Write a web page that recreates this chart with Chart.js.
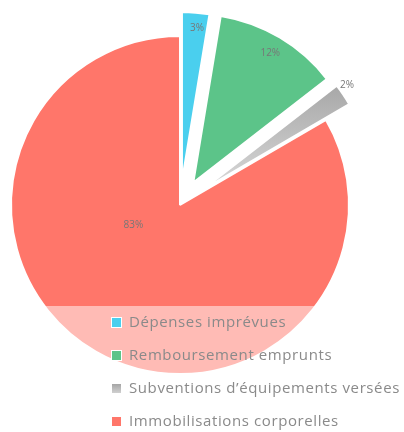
<!DOCTYPE html>
<html lang="fr">

<head>
    <meta charset="UTF-8">
    <title>Dépenses d'investissement</title>
    <script src="https://cdn.jsdelivr.net/npm/chart.js"></script>
    <style>
        body { margin: 0; background: #fff; }
        .wrap { position: relative; width: 404px; height: 432px; }
        .bande {
            position: absolute; left: 0; top: 306px; width: 404px; height: 126px;
            background: rgba(255, 255, 255, 0.5);
        }
        .legende { position: absolute; left: 111px; top: 304px; font-family: "Open Sans", sans-serif; font-size: 15px; letter-spacing: 0.6px; color: #8a8a8a; }
        .legende div { height: 33px; display: flex; align-items: center; white-space: nowrap; }
        .legende span.carre { width: 9px; height: 9px; margin-right: 7px; margin-top: 4px; border: 1px solid #fff; }
    </style>
</head>

<body>
    <div class="wrap">
        <canvas id="depensesChart"></canvas>
        <div class="bande"></div>
        <div class="legende" id="legende"></div>
    </div>

    <script>
        // données (estimées sur l'image, étiquettes arrondies)
        const categories = ["Dépenses imprévues", "Remboursement emprunts", "Subventions d’équipements versées", "Immobilisations corporelles"];
        const pourcentages = [2.6, 11.9, 2.1, 83.4];
        const couleurs = ['#4acfee', '#5cc489', '#ababab', '#ff766a'];
        const ecarts = [24, 26, 28, 0]; // parts détachées (px)
        // position des étiquettes (fraction du rayon, fraction de l'angle)
        const etiqRayon = [0.91, 0.89, 1.05, 0.30];
        const etiqAngle = [0.6, 0.50, 0.26, 0.623];

        // légende html par-dessus le graphique
        const legende = document.getElementById('legende');
        categories.forEach((cat, i) => {
            const ligne = document.createElement('div');
            const carre = document.createElement('span');
            carre.className = 'carre';
            carre.style.background = i === 2 ? 'linear-gradient(#a5a5a5, #d0d0d0)' : couleurs[i];
            ligne.appendChild(carre);
            ligne.appendChild(document.createTextNode(cat));
            legende.appendChild(ligne);
        });

        // dégradé vertical pour la part grise
        function couleurPart(c) {
            const area = c.chart.chartArea;
            if (c.dataIndex !== 2 || !area) return couleurs[c.dataIndex];
            const cy = (area.top + area.bottom) / 2;
            const g = c.chart.ctx.createLinearGradient(0, cy - 125, 0, cy - 25);
            g.addColorStop(0, '#a5a5a5');
            g.addColorStop(1, '#d4d4d4');
            return g;
        }

        // détache les parts : simple translation du centre de chaque arc
        const detacher = {
            id: 'detacher',
            afterDatasetUpdate(chart, args) {
                args.meta.data.forEach((arc, i) => {
                    const mid = (arc.startAngle + arc.endAngle) / 2;
                    arc.x += Math.cos(mid) * ecarts[i];
                    arc.y += Math.sin(mid) * ecarts[i];
                });
            }
        };

        // étiquettes de pourcentage
        const etiquettes = {
            id: 'etiquettes',
            afterDatasetsDraw(chart) {
                const ctx = chart.ctx;
                const meta = chart.getDatasetMeta(0);
                ctx.save();
                ctx.font = '10px "Open Sans"';
                ctx.fillStyle = '#777';
                ctx.textAlign = 'center';
                ctx.textBaseline = 'middle';
                meta.data.forEach((arc, i) => {
                    const a = arc.startAngle + etiqAngle[i] * (arc.endAngle - arc.startAngle);
                    const r = etiqRayon[i] * arc.outerRadius;
                    ctx.fillText(Math.round(pourcentages[i]) + '%', arc.x + Math.cos(a) * r, arc.y + Math.sin(a) * r);
                });
                ctx.restore();
            }
        };

        const ctx = document.getElementById('depensesChart').getContext('2d');
        const chart = new Chart(ctx, {
            type: 'pie',
            data: {
                labels: categories,
                datasets: [{
                    data: pourcentages,
                    backgroundColor: couleurPart,
                    borderColor: '#fff',
                    borderWidth: 2
                }]
            },
            options: {
                responsive: true,
                maintainAspectRatio: false,
                animation: false,
                events: [],
                radius: 169,
                layout: { padding: { left: 0, right: 44, top: 0, bottom: 22 } },
                plugins: {
                    legend: { display: false },
                    tooltip: { enabled: false }
                }
            },
            plugins: [detacher, etiquettes]
        });
    </script>
</body>

</html>
